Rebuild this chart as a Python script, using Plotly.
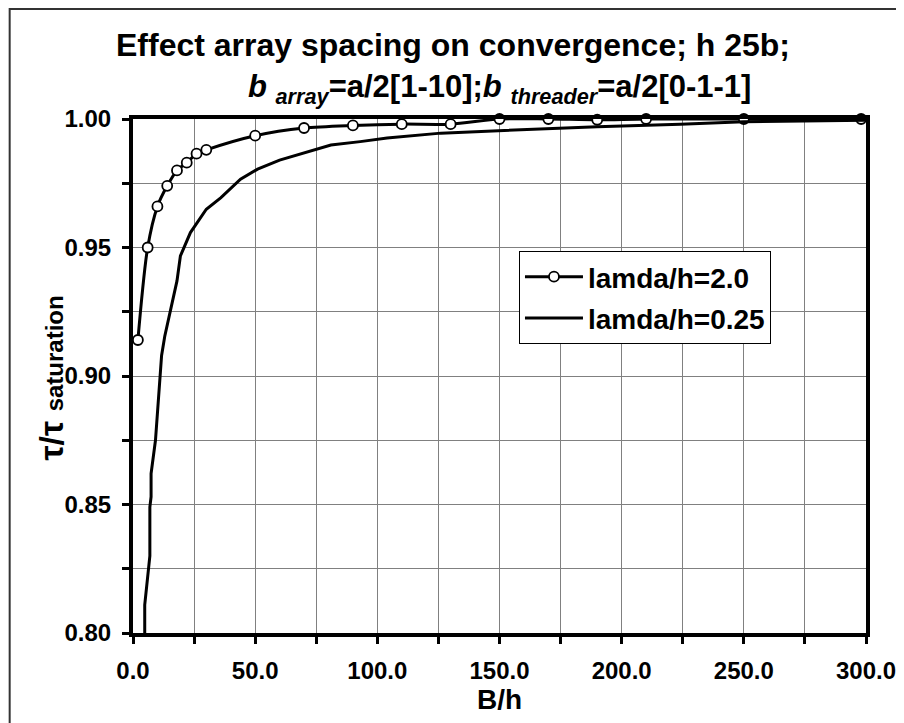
import plotly.graph_objects as go

# ---- data ----
bh_lam20 = [2, 6, 10, 14, 18, 22, 26, 30, 50, 70, 90, 110, 130, 150, 170, 190, 210, 250, 298]
tau_lam20 = [0.914, 0.950, 0.966, 0.974, 0.980, 0.983, 0.9865, 0.988, 0.9935, 0.9965,
             0.9975, 0.998, 0.998, 1.000, 1.000, 0.9997, 1.000, 1.000, 1.000]

bh_lam025 = [4.8, 4.8, 6.9, 6.9, 7.4, 7.4, 9.2, 11.7, 13, 15.3, 18, 19.4, 23.5, 30, 36, 44,
             51, 60, 71, 81, 93, 104, 126, 150, 175, 190, 224, 250, 300]
tau_lam025 = [0.800, 0.811, 0.830, 0.849, 0.853, 0.862, 0.875, 0.908, 0.9155, 0.926, 0.937,
              0.9467, 0.9558, 0.9649, 0.9694, 0.9766, 0.9805, 0.984, 0.987, 0.9899, 0.9912,
              0.9926, 0.9945, 0.9954, 0.9965, 0.997, 0.998, 0.9989, 0.9995]

x_tickvals = [0, 50, 100, 150, 200, 250, 300]
x_ticktext = ["0.0", "50.0", "100.0", "150.0", "200.0", "250.0", "300.0"]
y_tickvals = [0.8, 0.85, 0.9, 0.95, 1.0]
y_ticktext = ["0.80", "0.85", "0.90", "0.95", "1.00"]

FONT = "Liberation Sans, Arial, sans-serif"

fig = go.Figure()
fig.add_trace(go.Scatter(
    x=bh_lam20, y=tau_lam20, name="lamda/h=2.0", mode="lines+markers",
    line=dict(color="black", width=3, shape="spline", smoothing=0.8),
    marker=dict(symbol="circle", size=10, color="white", line=dict(color="black", width=1.8)),
    cliponaxis=False, legendgroup="a",
))
fig.add_trace(go.Scatter(
    x=bh_lam025, y=tau_lam025, name="lamda/h=0.25", mode="lines",
    line=dict(color="black", width=3),
    legendgroup="b",
))

# page body has an 8px margin: work in screen pixels and convert
OFF = 8
W, H = 904 - OFF, 723 - OFF
L, R, T, B = 132.5 - OFF, 866.5 - OFF, 119 - OFF, 633 - OFF
pw, ph = R - L, B - T


def px(xs):
    return (xs - OFF - L) / pw


def py(ys):
    return (B - (ys - OFF)) / ph


tick_common = dict(
    showgrid=True, gridcolor="#808080", gridwidth=1,
    showline=True, linecolor="black", linewidth=4, mirror=True,
    ticks="outside", ticklen=7, tickwidth=3, tickcolor="black",
    tickfont=dict(size=24, family=FONT, color="black", weight="bold"),
    ticklabelstandoff=6, automargin=False, zeroline=False,
)

fig.update_layout(
    width=W, height=H,
    margin=dict(l=L, r=W - R, t=T, b=H - B, pad=0, autoexpand=False),
    paper_bgcolor="white", plot_bgcolor="white",
    font=dict(family=FONT, color="black"),
    showlegend=True,
    legend=dict(
        x=px(519), y=py(251), xanchor="left", yanchor="top",
        bgcolor="white", bordercolor="black", borderwidth=1,
        font=dict(size=28, family=FONT, color="black", weight="bold"),
        tracegroupgap=2, itemwidth=58,
    ),
    xaxis=dict(
        range=[0, 300], tickmode="array", tickvals=x_tickvals, ticktext=x_ticktext,
        minor=dict(dtick=25, ticks="outside", ticklen=7, tickwidth=3, tickcolor="black",
                   showgrid=True, gridcolor="#808080", gridwidth=1),
        **tick_common,
    ),
    yaxis=dict(
        range=[0.8, 1.0], tickmode="array", tickvals=y_tickvals, ticktext=y_ticktext,
        minor=dict(dtick=0.025, ticks="outside", ticklen=7, tickwidth=3, tickcolor="black",
                   showgrid=True, gridcolor="#808080", gridwidth=1),
        **tick_common,
    ),
)

# titles as annotations
fig.add_annotation(
    x=px(453), y=py(45), xref="paper", yref="paper", xanchor="center", yanchor="middle",
    text="<b>Effect array spacing on convergence; h 25b;</b>", showarrow=False,
    font=dict(size=32, family=FONT, color="black"),
)
fig.add_annotation(
    x=px(500), y=py(89), xref="paper", yref="paper", xanchor="center", yanchor="middle",
    text="<b><i>b</i> <sub><i>array</i></sub>=a/2[1-10];<i>b</i> <sub><i>threader</i></sub>=a/2[0-1-1]</b>",
    showarrow=False, font=dict(size=31, family=FONT, color="black"),
)
fig.add_annotation(
    x=0.5, y=py(699), xref="paper", yref="paper", xanchor="center", yanchor="middle",
    text="<b>B/h</b>", showarrow=False, font=dict(size=28, family=FONT, color="black"),
)
fig.add_annotation(
    x=px(50), y=py(378), xref="paper", yref="paper", xanchor="center", yanchor="middle",
    textangle=-90,
    text="<b>τ/τ <span style='font-size:24px'>saturation</span></b>", showarrow=False,
    font=dict(size=34, family=FONT, color="black"),
)

# outer chart border
fig.add_shape(
    type="rect", xref="paper", yref="paper",
    x0=px(9), x1=px(930), y0=py(760), y1=py(9),
    line=dict(color="#333333", width=2), fillcolor="rgba(0,0,0,0)", layer="below",
)

fig.write_html("out.html")
